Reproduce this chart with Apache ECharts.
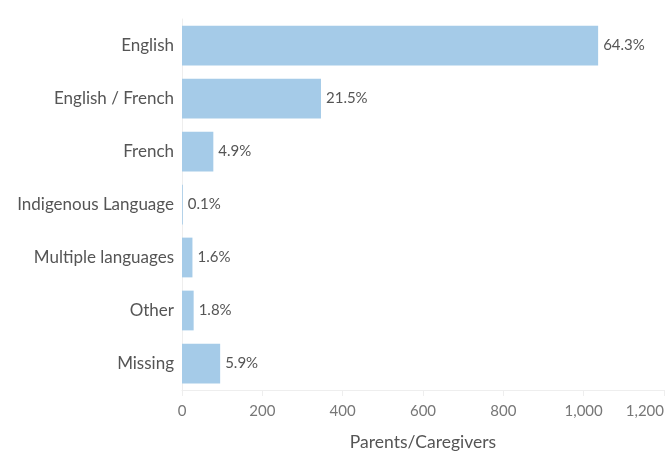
<!DOCTYPE html>
<html>
<head>
<meta charset="utf-8">
<script src="https://cdn.jsdelivr.net/npm/echarts@6/dist/echarts.min.js"></script>
<style>
html, body { margin: 0; padding: 0; background: #fff; }
#chart { width: 669px; height: 451px; }
</style>
</head>
<body>
<div id="chart"></div>
<script>
// 类别 / 数值 / 百分比
var categories = ['English', 'English / French', 'French', 'Indigenous Language', 'Multiple languages', 'Other', 'Missing'];
var counts = [1036, 346, 78, 2, 26, 29, 95];
var percents = ['64.3%', '21.5%', '4.9%', '0.1%', '1.6%', '1.8%', '5.9%'];
var xTicks = [0, 200, 400, 600, 800, 1000, 1200];

var myChart = echarts.init(document.getElementById('chart'));
var font = 'Lato, "Open Sans", sans-serif';

var option = {
	animation: false,
	grid: { left: 182, right: 5, top: 19, bottom: 61, outerBoundsMode: 'none' },
	xAxis: {
		type: 'value',
		min: xTicks[0],
		max: xTicks[xTicks.length - 1],
		interval: 200,
		name: 'Parents/Caregivers',
		nameLocation: 'middle',
		nameGap: 43,
		nameTextStyle: { color: '#555', fontSize: 17.5, fontFamily: font },
		axisLine: { show: true, lineStyle: { color: '#eeeeee' } },
		axisTick: { show: true, length: 6, lineStyle: { color: '#eeeeee' } },
		splitLine: { show: false },
		axisLabel: {
			color: '#777', fontSize: 15, fontFamily: font, margin: 14,
			alignMaxLabel: 'right',
			formatter: function (v) { return v.toLocaleString('en-US'); }
		}
	},
	yAxis: {
		type: 'category',
		inverse: true,
		data: categories,
		axisLine: { show: true, lineStyle: { color: '#eeeeee' } },
		axisTick: { show: false },
		axisLabel: { color: '#555', fontSize: 17, fontFamily: font, margin: 8 }
	},
	series: [{
		type: 'bar',
		data: counts,
		barWidth: '75%',
		itemStyle: { color: '#a5cbe8' },
		label: {
			show: true,
			position: 'right',
			distance: 5,
			color: '#555',
			fontSize: 15,
			fontFamily: font,
			formatter: function (p) { return percents[p.dataIndex]; }
		}
	}]
};
myChart.setOption(option);
</script>
</body>
</html>
